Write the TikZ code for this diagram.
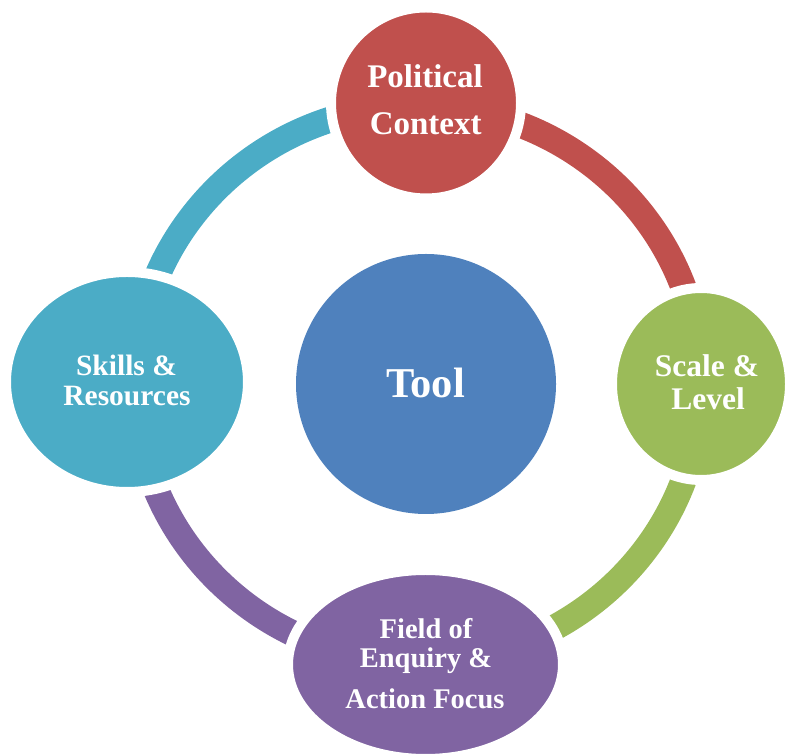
\documentclass[tikz,border=0pt]{standalone}
\usepackage{fontspec}
\setmainfont{Liberation Serif}
\usetikzlibrary{shapes.geometric}
\definecolor{polred}{HTML}{C0504D}
\definecolor{sclgreen}{HTML}{9BBB59}
\definecolor{fldpurple}{HTML}{8064A2}
\definecolor{sklcyan}{HTML}{4BACC6}
\definecolor{toolblue}{HTML}{4F81BD}
\begin{document}
\begin{tikzpicture}[x=1pt,y=1pt,
  hub/.style={ellipse, inner sep=0pt, fill=#1, draw=white, line width=10pt},
  ringarc/.style={line width=26pt, draw=#1},
  lbl/.style={text=white, anchor=base, inner sep=0pt,
    font=\bfseries\fontsize{#1}{#1}\selectfont},
]
\useasboundingbox (0,0) rectangle (786,754);

% the ring, one coloured quarter per segment
\coordinate (ringc) at (418,370);
\draw[ringarc=polred]    (ringc) ++(0:283 and 278)   arc[start angle=0,   end angle=90,  x radius=283, y radius=278];
\draw[ringarc=sklcyan]   (ringc) ++(90:283 and 278)  arc[start angle=90,  end angle=180, x radius=283, y radius=278];
\draw[ringarc=fldpurple] (ringc) ++(180:283 and 278) arc[start angle=180, end angle=270, x radius=283, y radius=278];
\draw[ringarc=sclgreen]  (ringc) ++(270:283 and 278) arc[start angle=270, end angle=360, x radius=283, y radius=278];

% outer hubs (white rim separates them from the ring)
\node[hub=polred,    minimum width=190pt, minimum height=191pt] (pol) at (426,651) {};
\node[hub=sclgreen,  minimum width=178pt, minimum height=192pt] (scl) at (701,370) {};
\node[hub=fldpurple, minimum width=275pt, minimum height=189pt] (fld) at (425.5,89.5) {};
\node[hub=sklcyan,   minimum width=242pt, minimum height=220pt] (skl) at (127,372) {};

% centre
\node[circle, inner sep=0pt, fill=toolblue, minimum size=260pt] (tool) at (426,370) {};

% labels
\node[lbl=33] (pol-a) at (425,666) {Political};
\node[lbl=33] (pol-b) at (425.7,619) {Context};
\node[lbl=31.5] (scl-a) at (707,377) {Scale \&};
\node[lbl=31.5] (scl-b) at (708,344) {Level};
\node[lbl=28.5] (fld-a) at (426,115) {Field of};
\node[lbl=28.5] (fld-b) at (426,86) {Enquiry \&};
\node[lbl=28.5] (fld-c) at (425,45) {Action Focus};
\node[lbl=29.5] (skl-a) at (126.5,378) {Skills \&};
\node[lbl=29.5] (skl-b) at (127,348) {Resources};
\node[lbl=42.5] (tool-t) at (425.5,356) {Tool};
\end{tikzpicture}
\end{document}
